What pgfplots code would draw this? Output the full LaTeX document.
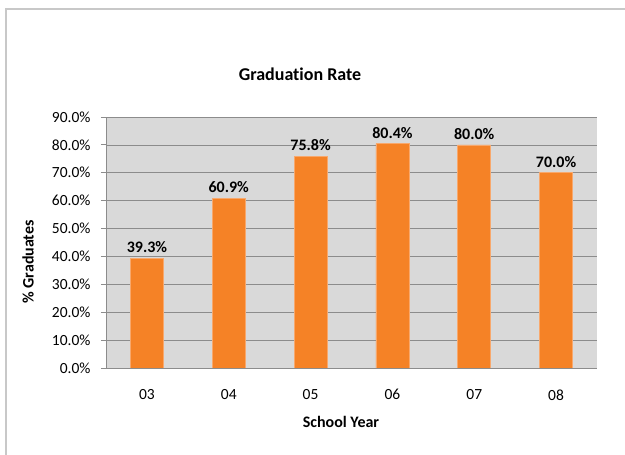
\documentclass[border=0pt]{standalone}
\usepackage{fontspec}
\setmainfont{Carlito}[Ligatures=NoCommon]
\usepackage{pgfplots}
\pgfplotsset{compat=1.18}
\definecolor{barorange}{RGB}{245,130,38}
\definecolor{baredge}{RGB}{248,168,108}
\definecolor{plotbg}{RGB}{217,217,217}
\definecolor{gridgray}{RGB}{140,140,140}
\definecolor{framegray}{RGB}{200,200,200}
\begin{document}
\begin{tikzpicture}
\useasboundingbox (0pt,0pt) rectangle (625pt,455pt);
\draw[framegray, line width=1.5pt] (6pt,0pt) -- (6pt,446pt) -- (625pt,446pt);
\begin{axis}[
    at={(106pt,87pt)}, anchor=south west,
    scale only axis,
    width=491pt, height=251pt,
    xmin=-0.5, xmax=5.5,
    ymin=0, ymax=90,
    ytick={0,10,...,90},
    xtick=data,
    xticklabels={03,04,05,06,07,08},
    axis x line*=bottom, axis y line*=left,
    axis line style={draw=gridgray, line width=0.8pt, -},
    axis background/.style={fill=plotbg},
    ymajorgrids=true,
    grid style={draw=gridgray, line width=0.7pt},
    x tick style={draw=none},
    y tick style={draw=gridgray, line width=0.8pt},
    tick align=outside,
    major tick length=5pt,
    /pgf/number format/assume math mode=true,
    yticklabel={\pgfmathprintnumber[fixed,fixed zerofill,precision=1]{\tick}\%},
    ticklabel style={font=\fontsize{15.5}{17}\selectfont, text=black},
    yticklabel style={xshift=-7pt},
    xticklabel style={yshift=-13pt},
    nodes near coords={\pgfmathprintnumber[fixed,fixed zerofill,precision=1]{\pgfplotspointmeta}\%},
    nodes near coords style={font=\bfseries\fontsize{16}{17}\selectfont, text=black, yshift=2pt},
]
\addplot[ybar, bar width=33pt, fill=barorange, draw=baredge, line width=0.6pt]
    coordinates {
    (0,39.3)
    (1,60.9)
    (2,75.8)
    (3,80.4)
    (4,80.0)
    (5,70.0)
    };
\end{axis}
\node[font=\bfseries\fontsize{18}{20}\selectfont] at (300pt,381pt) {Graduation Rate};
\node[font=\bfseries\fontsize{16}{18}\selectfont] at (341pt,33pt) {School Year};
\node[font=\bfseries\fontsize{16}{18}\selectfont, rotate=90] at (28pt,193pt) {\% Graduates};
\end{tikzpicture}
\end{document}
